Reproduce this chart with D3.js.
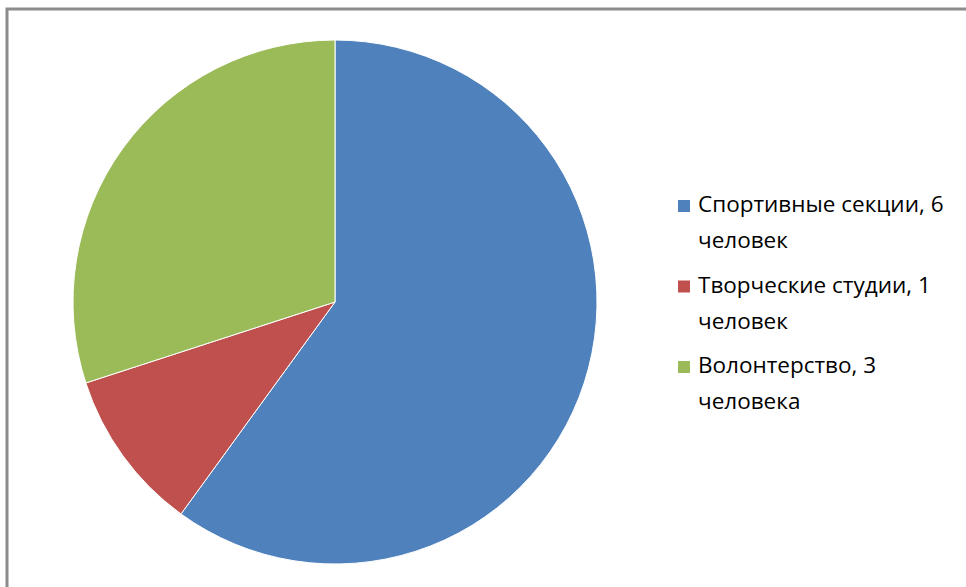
<!DOCTYPE html>
<html>
<head>
<meta charset="utf-8">
<script src="https://cdn.jsdelivr.net/npm/d3@7"></script>
<style>
  body { margin: 0; background: #fff; }
  text { font-family: "Open Sans", sans-serif; }
</style>
</head>
<body>
<div id="plot"></div>
<script>
let labels = ["Спортивные секции, 6", "Творческие студии, 1", "Волонтерство, 3"]
let labels2 = ["человек", "человек", "человека"]
let values = [6, 1, 3]
let colors = ["#4f81bd", "#c0504d", "#9bbb59"]

let svgWidth = 966
let svgHeight = 587

let svg = d3.select("#plot")
  .append("svg")
  .attr("width", svgWidth)
  .attr("height", svgHeight)

// chart frame (only left and top edges visible in the crop)
svg.append("path")
  .attr("d", `M7,${svgHeight} V9 H${svgWidth}`)
  .attr("fill", "none")
  .attr("stroke", "#8c8c8c")
  .attr("stroke-width", 3)

let cx = 335, cy = 302, radius = 262

let pie = d3.pie().sort(null).value(d => d)
let arc = d3.arc().innerRadius(0).outerRadius(radius)

let chart = svg.append("g")
  .attr("transform", `translate(${cx}, ${cy})`)

chart.selectAll("path")
  .data(pie(values))
  .enter()
  .append("path")
  .attr("d", arc)
  .attr("fill", (d, i) => colors[i])
  .attr("stroke", "#fff")
  .attr("stroke-width", 1)

let legend = svg.append("g")
  .attr("transform", "translate(678, 0)")

let rowY = d3.scalePoint()
  .domain(d3.range(labels.length))
  .range([212, 373])

let item = legend.selectAll(".item")
  .data(labels)
  .enter()
  .append("g")
  .attr("class", "item")
  .attr("transform", (d, i) => `translate(0, ${rowY(i)})`)

item.append("rect")
  .attr("x", 0)
  .attr("y", -12)
  .attr("width", 12)
  .attr("height", 12)
  .attr("fill", (d, i) => colors[i])

item.append("text")
  .attr("x", 20)
  .attr("y", 0)
  .attr("font-size", 22.5)
  .attr("fill", "#000")
  .text(d => d)

item.append("text")
  .attr("x", 20)
  .attr("y", 36)
  .attr("font-size", 22.5)
  .attr("fill", "#000")
  .text((d, i) => labels2[i])
</script>
</body>
</html>
